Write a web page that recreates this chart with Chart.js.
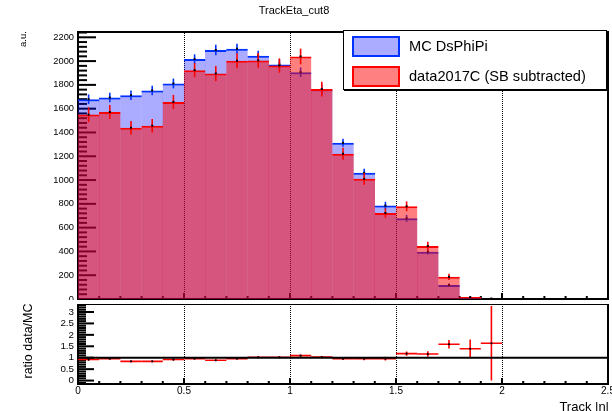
<!DOCTYPE html>
<html>
<head>
<meta charset="utf-8">
<script src="https://cdn.jsdelivr.net/npm/chart.js@4.4.1/dist/chart.umd.min.js"></script>
<style>
  html, body { margin: 0; padding: 0; background: #fff; }
  body { width: 612px; height: 411px; position: relative; overflow: hidden; font-family: "Liberation Sans", Arial, sans-serif; color: #000; }
  canvas { position: absolute; left: 0; }
  #top { top: 0; }
  #bottom { top: 300px; }
  .txt { position: absolute; white-space: nowrap; line-height: 1; }
  .rot { transform: translate(-50%, -50%) rotate(-90deg); }
  #title { left: 294px; top: 5px; font-size: 11px; transform: translateX(-50%); }
  #ylab { left: 23px; top: 39px; font-size: 9.5px; }
  #rlab { left: 28px; top: 341px; font-size: 12.5px; }
  #xlab { right: 3px; top: 400px; font-size: 13px; }
  #legend { position: absolute; left: 343px; top: 30px; width: 264px; height: 60px; box-sizing: border-box;
            border: 1px solid #000; box-shadow: 1px 1px 0 #000; background: #fff; }
  .entry { position: absolute; left: 8px; height: 21px; }
  .swatch { position: absolute; left: 0; top: 0; width: 48px; height: 21px; box-sizing: border-box; border: 2px solid; }
  .label { position: absolute; left: 57px; top: 3px; font-size: 14.6px; white-space: nowrap; line-height: 1; }
</style>
</head>
<body>
<canvas id="top" width="612" height="300"></canvas>
<canvas id="bottom" width="612" height="111"></canvas>
<div class="txt" id="title">TrackEta_cut8</div>
<div class="txt rot" id="ylab">a.u.</div>
<div class="txt rot" id="rlab">ratio data/MC</div>
<div class="txt" id="xlab">Track |η|</div>
<div id="legend"></div>

<script>
// histogram bins (width 0.1)
const binCenters = [0.05, 0.15, 0.25, 0.35, 0.45, 0.55, 0.65, 0.75, 0.85, 0.95,
                    1.05, 1.15, 1.25, 1.35, 1.45, 1.55, 1.65, 1.75, 1.85, 1.95,
                    2.05, 2.15, 2.25, 2.35, 2.45];
const binHalfWidth = 0.05;

// MC DsPhiPi
const mcValues = [1680, 1694, 1713, 1753, 1812, 2017, 2093, 2104, 2045, 1972,
                  1907, 1764, 1313, 1061, 785, 678, 397, 118, 11, 2,
                  0, 0, 0, 0, 0];
const mcErrors = [40, 40, 40, 40, 41, 40, 44, 42, 42, 41,
                  40, 38, 34, 33, 32, 29, 22, 12, 4, 2,
                  0, 0, 0, 0, 0];

// data2017C (SB subtracted)
const dataValues = [1550, 1572, 1440, 1457, 1657, 1924, 1896, 2003, 2006, 1963,
                    2039, 1765, 1221, 1010, 723, 779, 445, 186, 16, 3,
                    0, 0, 0, 0, 0];
const dataErrors = [62, 58, 57, 57, 59, 60, 63, 63, 62, 60,
                    66, 62, 50, 50, 40, 41, 37, 27, 8, 3,
                    0, 0, 0, 0, 0];

// ratio data/MC (first 20 bins)
const ratioValues = [0.92, 0.96, 0.84, 0.84, 0.92, 0.96, 0.89, 0.96, 1.02, 1.02,
                     1.09, 1.03, 0.96, 0.96, 0.96, 1.18, 1.16, 1.59, 1.39, 1.63];
const ratioErrors = [0.05, 0.05, 0.05, 0.05, 0.05, 0.04, 0.04, 0.04, 0.04, 0.04,
                     0.05, 0.05, 0.06, 0.07, 0.08, 0.09, 0.12, 0.19, 0.41, 1.63];

// axis ticks
const yTicksTop = [0, 200, 400, 600, 800, 1000, 1200, 1400, 1600, 1800, 2000, 2200];
const yLabelsTop = ["0", "200", "400", "600", "800", "1000", "1200", "1400", "1600", "1800", "2000", "2200"];
const yTicksRatio = [0, 0.5, 1, 1.5, 2, 2.5, 3];
const yLabelsRatio = ["0", "0.5", "1", "1.5", "2", "2.5", "3"];
const xTicks = [0, 0.5, 1, 1.5, 2, 2.5];
const xTickLabels = ["0", "0.5", "1", "1.5", "2", "2.5"];
const gridLines = [0.5, 1, 1.5, 2];

const seriesNames = ["MC DsPhiPi", "data2017C (SB subtracted)"];
const mcFill = "rgba(0, 0, 255, 0.33)";
const mcLine = "#0033ff";
const dataFill = "rgba(255, 0, 0, 0.5)";
const dataLine = "#ff0000";

const FONT = "'Liberation Sans', Arial, sans-serif";

// ROOT style frame: dotted grid, inner tick marks, frame
const rootFrame = {
  id: "rootFrame",
  beforeDatasetsDraw(chart, args, o) {
    const { ctx, chartArea: a, scales: { x, y } } = chart;
    ctx.save();
    ctx.strokeStyle = "#000";

    // dotted vertical grid
    ctx.lineWidth = 1;
    ctx.setLineDash([1, 1]);
    gridLines.forEach(v => {
      const px = Math.round(x.getPixelForValue(v)) + 0.5;
      ctx.beginPath(); ctx.moveTo(px, a.top); ctx.lineTo(px, a.bottom); ctx.stroke();
    });
    ctx.setLineDash([]);

    // y ticks, inside the frame
    ctx.lineWidth = 2;
    const n0 = Math.ceil(y.min / o.yMinor - 1e-6), n1 = Math.floor(y.max / o.yMinor + 1e-6);
    for (let n = n0; n <= n1; n++) {
      const py = y.getPixelForValue(n * o.yMinor);
      const len = n % o.yPer === 0 ? o.yMajorLen : o.yMinorLen;
      ctx.beginPath(); ctx.moveTo(a.left, py); ctx.lineTo(a.left + len, py); ctx.stroke();
    }

    // x ticks along the bottom edge
    for (let n = 1; n < 25; n++) {
      const px = x.getPixelForValue(n * 0.1);
      const len = n % 5 === 0 ? o.xMajorLen : o.xMinorLen;
      ctx.beginPath(); ctx.moveTo(px, a.bottom); ctx.lineTo(px, a.bottom - len); ctx.stroke();
    }

    // frame
    ctx.beginPath();
    ctx.moveTo(a.left, a.top); ctx.lineTo(a.left, a.bottom); ctx.lineTo(a.right, a.bottom); ctx.lineTo(a.right, a.top);
    ctx.stroke();
    ctx.lineWidth = o.topWidth;
    ctx.beginPath(); ctx.moveTo(a.left, a.top + o.topWidth / 2); ctx.lineTo(a.right, a.top + o.topWidth / 2); ctx.stroke();
    ctx.restore();
  }
};

// error bars drawn straight after their own histogram
const histErrors = {
  id: "histErrors",
  afterDatasetDraw(chart, args) {
    const ds = chart.data.datasets[args.index];
    if (!ds.errors) return;
    const { ctx, scales: { x, y } } = chart;
    ctx.save();
    ds.data.forEach((p, i) => {
      if (p.y <= 0) return;
      const px = x.getPixelForValue(p.x);
      ctx.strokeStyle = ds.errColor;
      ctx.lineWidth = 1.6;
      ctx.beginPath();
      ctx.moveTo(px, y.getPixelForValue(p.y - ds.errors[i]));
      ctx.lineTo(px, y.getPixelForValue(p.y + ds.errors[i]));
      ctx.stroke();
      ctx.fillStyle = "#000";
      ctx.fillRect(px - 1, y.getPixelForValue(p.y) - 1, 2, 2);
    });
    ctx.restore();
  }
};

// ratio crosses and the line at 1
const ratioMarks = {
  id: "ratioMarks",
  beforeDatasetDraw(chart, args) {
    const ds = chart.data.datasets[args.index];
    const { ctx, scales: { x, y } } = chart;
    ctx.save();
    ctx.strokeStyle = dataLine;
    ctx.lineWidth = 1.6;
    ds.data.forEach((p, i) => {
      const py = y.getPixelForValue(p.y), px = x.getPixelForValue(p.x);
      ctx.beginPath();
      ctx.moveTo(x.getPixelForValue(p.x - binHalfWidth), py);
      ctx.lineTo(x.getPixelForValue(p.x + binHalfWidth), py);
      ctx.moveTo(px, y.getPixelForValue(p.y - ds.errors[i]));
      ctx.lineTo(px, y.getPixelForValue(p.y + ds.errors[i]));
      ctx.stroke();
    });
    ctx.restore();
  },
  afterDatasetsDraw(chart) {
    const { ctx, chartArea: a, scales: { y } } = chart;
    const py = y.getPixelForValue(1);
    ctx.save();
    ctx.strokeStyle = "#000";
    ctx.lineWidth = 2;
    ctx.beginPath(); ctx.moveTo(a.left, py); ctx.lineTo(a.right, py); ctx.stroke();
    ctx.restore();
  }
};

const fixY = s => { s.width = 78; s.paddingTop = 0; s.paddingBottom = 0; };
const fixX = s => { s.height = 20; s.paddingLeft = 0; s.paddingRight = 0; };

const histDataset = (label, values, errors, fill, line, order) => ({
  label,
  data: binCenters.map((x, i) => ({ x, y: values[i] })),
  errors,
  errColor: line,
  backgroundColor: fill,
  borderColor: line,
  borderWidth: { top: 2, left: 0, right: 0, bottom: 0 },
  borderSkipped: false,
  grouped: false,
  categoryPercentage: 1,
  barPercentage: 1.02,
  order
});

new Chart(document.getElementById("top"), {
  type: "bar",
  data: {
    datasets: [
      histDataset(seriesNames[1], dataValues, dataErrors, dataFill, dataLine, 1),
      histDataset(seriesNames[0], mcValues, mcErrors, mcFill, mcLine, 2)
    ]
  },
  options: {
    responsive: false,
    animation: false,
    layout: { padding: { top: 31, right: 4, bottom: 1, left: 0 } },
    plugins: {
      legend: { display: false },
      tooltip: { enabled: false },
      rootFrame: { yMinor: 40, yPer: 5, yMajorLen: 18, yMinorLen: 9, xMajorLen: 6, xMinorLen: 3, topWidth: 2 }
    },
    scales: {
      x: { type: "linear", min: 0, max: 2.5, offset: false, display: false },
      y: {
        min: 0, max: 2253,
        afterFit: fixY,
        afterBuildTicks: s => { s.ticks = yTicksTop.map(v => ({ value: v })); },
        ticks: { padding: 4, autoSkip: false, color: "#000", font: { family: FONT, size: 9.3 },
                 callback: (v, i) => yLabelsTop[i] },
        grid: { display: false, drawTicks: false },
        border: { display: false }
      }
    }
  },
  plugins: [rootFrame, histErrors]
});

new Chart(document.getElementById("bottom"), {
  type: "scatter",
  data: {
    datasets: [{
      label: "ratio data/MC",
      data: ratioValues.map((v, i) => ({ x: binCenters[i], y: v })),
      errors: ratioErrors,
      pointRadius: 1.1,
      pointBackgroundColor: "#000",
      pointBorderWidth: 0
    }]
  },
  options: {
    responsive: false,
    animation: false,
    layout: { padding: { top: 0, right: 4, bottom: 7, left: 0 } },
    plugins: {
      legend: { display: false },
      tooltip: { enabled: false },
      rootFrame: { yMinor: 0.1, yPer: 5, yMajorLen: 16, yMinorLen: 8, xMajorLen: 6, xMinorLen: 3, topWidth: 1 }
    },
    scales: {
      x: {
        type: "linear", min: 0, max: 2.5,
        afterFit: fixX,
        afterBuildTicks: s => { s.ticks = xTicks.map(v => ({ value: v })); },
        ticks: { padding: 1, maxRotation: 0, autoSkip: false, color: "#000",
                 font: { family: FONT, size: 10 }, callback: (v, i) => xTickLabels[i] },
        grid: { display: false, drawTicks: false },
        border: { display: false }
      },
      y: {
        min: -0.15, max: 3.35,
        afterFit: fixY,
        afterBuildTicks: s => { s.ticks = yTicksRatio.map(v => ({ value: v })); },
        ticks: { padding: 4, autoSkip: false, color: "#000", font: { family: FONT, size: 9.8 },
                 callback: (v, i) => yLabelsRatio[i] },
        grid: { display: false, drawTicks: false },
        border: { display: false }
      }
    }
  },
  plugins: [rootFrame, ratioMarks]
});

// ROOT-style legend box
const legend = document.getElementById("legend");
[[seriesNames[0], "rgb(171,171,255)", mcLine, 5], [seriesNames[1], "rgb(255,128,128)", dataLine, 35]]
  .forEach(([name, fill, line, top]) => {
    const e = document.createElement("div");
    e.className = "entry";
    e.style.top = top + "px";
    e.innerHTML = '<div class="swatch" style="background:' + fill + ';border-color:' + line + '"></div>' +
                  '<div class="label">' + name + '</div>';
    legend.appendChild(e);
  });
</script>
</body>
</html>
